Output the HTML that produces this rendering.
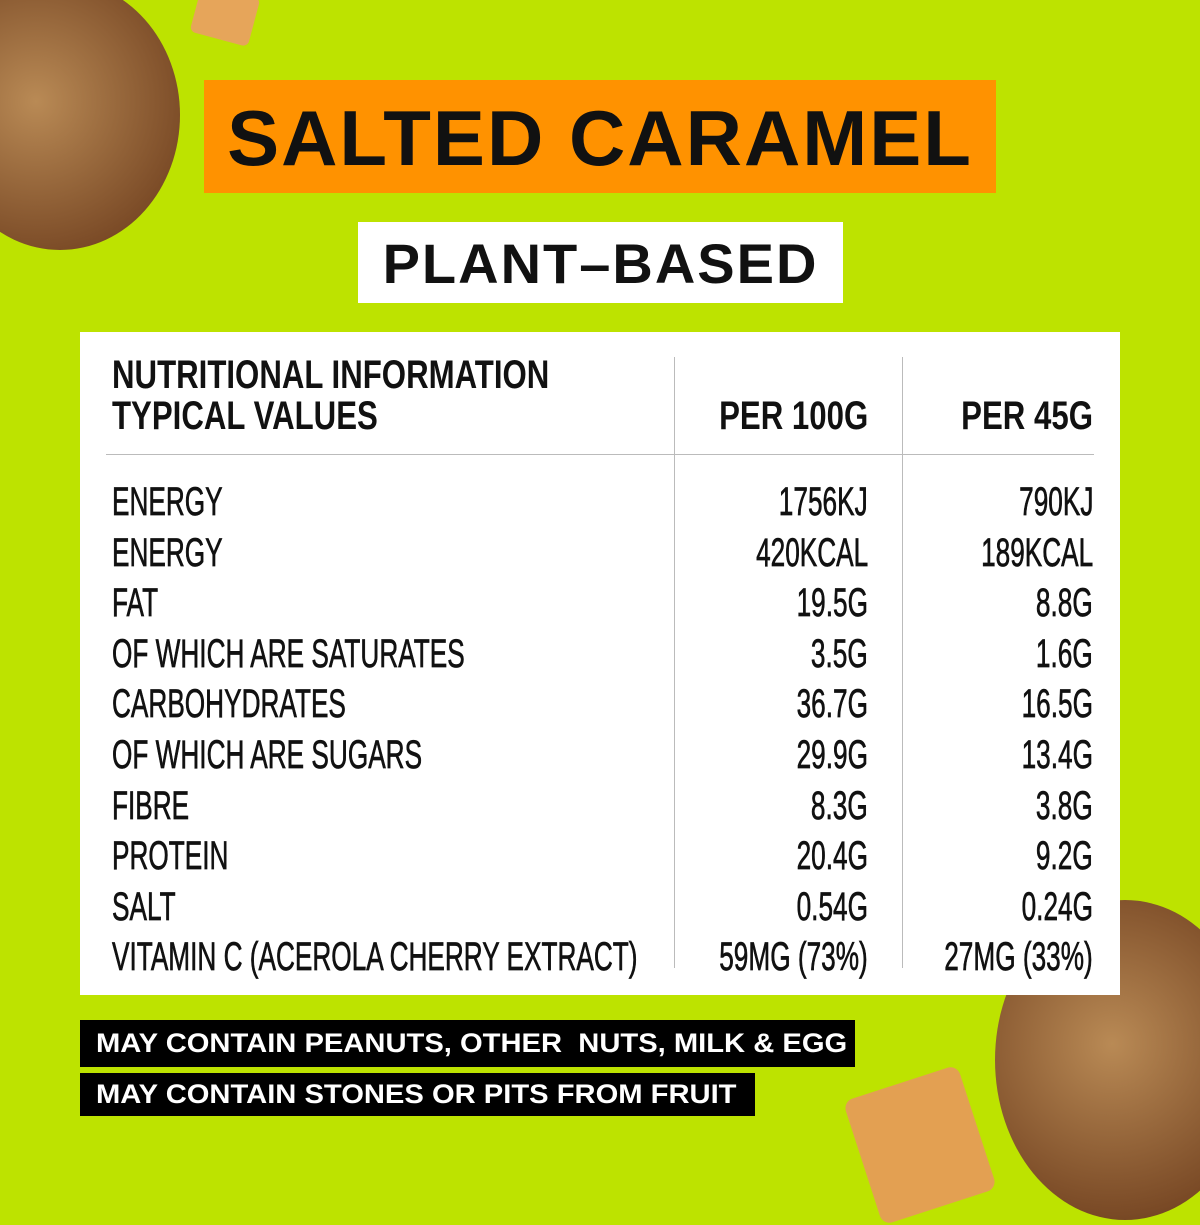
<!DOCTYPE html>
<html><head><meta charset="utf-8"><style>
body{margin:0;width:1200px;height:1200px;background:#bde300;position:relative;overflow:hidden;font-family:"Liberation Sans",sans-serif}
.a{position:absolute}
.t{position:absolute;font-weight:bold;font-size:40px;line-height:40px;color:#111;white-space:nowrap;transform:scaleX(0.78);}
.n{font-weight:normal;-webkit-text-stroke:0.7px #111;transform:scaleX(0.655)}
.l{transform-origin:left top}
.r{transform-origin:right top;text-align:right}
.bar{position:absolute;background:#000;}
.bt{position:absolute;color:#fff;font-weight:bold;font-size:27px;white-space:nowrap;transform:scaleX(1.08);transform-origin:left top}
</style></head><body>
<div class="a" style="left:-60px;top:-20px;width:240px;height:270px;border-radius:50%;background:radial-gradient(circle at 40% 45%,#b98a55,#7a4a26 75%,#5a3418)"></div>
<div class="a" style="left:195px;top:-10px;width:60px;height:50px;background:#e6a55a;border-radius:6px;transform:rotate(15deg)"></div>
<div class="a" style="left:995px;top:900px;width:260px;height:320px;border-radius:50%;background:radial-gradient(circle at 45% 45%,#b98a55,#7a4a26 75%,#5a3418)"></div>
<div class="a" style="left:860px;top:1080px;width:120px;height:130px;background:#e3a052;border-radius:10px;transform:rotate(-18deg)"></div>
<div class="a" style="left:204px;top:80px;width:792px;height:113px;background:#ff9200"></div>
<div class="a" style="left:204px;top:80px;width:792px;height:113px;text-align:center;font-weight:bold;font-size:78px;line-height:116px;color:#111;letter-spacing:2px">SALTED CARAMEL</div>
<div class="a" style="left:358px;top:222px;width:485px;height:81px;background:#fff;text-align:center;font-weight:bold;font-size:56px;line-height:84px;color:#111;letter-spacing:2px">PLANT–BASED</div>
<div class="a" style="left:80px;top:332px;width:1040px;height:663px;background:#fff"></div>
<div class="a" style="left:674px;top:357px;width:1px;height:611px;background:#bbb"></div>
<div class="a" style="left:902px;top:357px;width:1px;height:611px;background:#bbb"></div>
<div class="a" style="left:106px;top:454px;width:988px;height:1px;background:#bbb"></div>
<div class="t l" style="left:112px;top:355px">NUTRITIONAL INFORMATION</div>
<div class="t l" style="left:112px;top:396px">TYPICAL VALUES</div>
<div class="t r" style="right:332px;top:396px">PER 100G</div>
<div class="t r" style="right:107px;top:396px">PER 45G</div>
<div id="rows"></div>
<div class="bar" style="left:80px;top:1020px;width:775px;height:47px"></div>
<div class="bt" style="left:96px;top:1028px">MAY CONTAIN PEANUTS, OTHER&nbsp; NUTS, MILK &amp; EGG</div>
<div class="bar" style="left:80px;top:1073px;width:675px;height:43px"></div>
<div class="bt" style="left:96px;top:1079px">MAY CONTAIN STONES OR PITS FROM FRUIT</div>
<script>
var d=[["ENERGY","1756KJ","790KJ"],["ENERGY","420KCAL","189KCAL"],["FAT","19.5G","8.8G"],["OF WHICH ARE SATURATES","3.5G","1.6G"],["CARBOHYDRATES","36.7G","16.5G"],["OF WHICH ARE SUGARS","29.9G","13.4G"],["FIBRE","8.3G","3.8G"],["PROTEIN","20.4G","9.2G"],["SALT","0.54G","0.24G"],["VITAMIN C (ACEROLA CHERRY EXTRACT)","59MG (73%)","27MG (33%)"]];
var h="";d.forEach(function(r,i){var y=482+i*50.6;
h+='<div class="t n l" style="left:112px;top:'+y+'px">'+r[0]+'</div>';
h+='<div class="t n r" style="right:332px;top:'+y+'px">'+r[1]+'</div>';
h+='<div class="t n r" style="right:107px;top:'+y+'px">'+r[2]+'</div>';});
document.getElementById("rows").innerHTML=h;
</script>
</body></html>
